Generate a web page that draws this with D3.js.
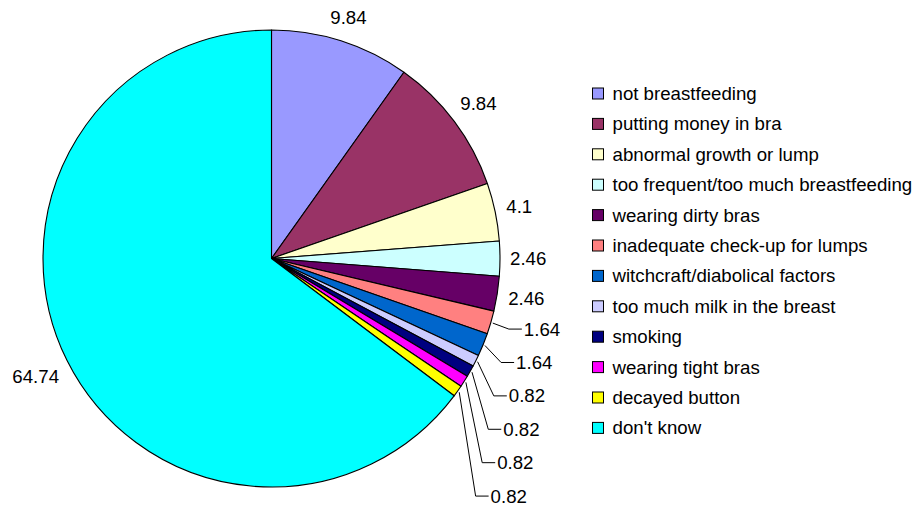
<!DOCTYPE html>
<html>
<head>
<meta charset="utf-8">
<script src="https://cdn.jsdelivr.net/npm/d3@7"></script>
<style>
  html, body { margin: 0; padding: 0; background: #ffffff; }
  svg { display: block; }
  text { font-family: "Liberation Sans", Arial, sans-serif; fill: #000; }
</style>
</head>
<body>
<div id="chart"></div>
<script>
// Perceived causes of breast problems (percent of respondents)
const categories = [
  "not breastfeeding",
  "putting money in bra",
  "abnormal growth or lump",
  "too frequent/too much breastfeeding",
  "wearing dirty bras",
  "inadequate check-up for lumps",
  "witchcraft/diabolical factors",
  "too much milk in the breast",
  "smoking",
  "wearing tight bras",
  "decayed button",
  "don't know"
];
const values = [9.84, 9.84, 4.1, 2.46, 2.46, 1.64, 1.64, 0.82, 0.82, 0.82, 0.82, 64.74];
const colors = [
  "#9999FF", "#993366", "#FFFFCC", "#CCFFFF", "#660066", "#FF8080",
  "#0066CC", "#CCCCFF", "#000080", "#FF00FF", "#FFFF00", "#00FFFF"
];

const W = 924, H = 507;
const cx = 271.5, cy = 258.5, R = 228.5;
const fs = 18.67;

const data = categories.map((c, i) => ({ name: c, value: values[i], color: colors[i] }));

const svg = d3.select("#chart").append("svg")
  .attr("width", W).attr("height", H)
  .style("background", "#fff");

const pie = d3.pie().sort(null).value(d => d.value);
const arcs = pie(data);
const arc = d3.arc().innerRadius(0).outerRadius(R);

const g = svg.append("g").attr("transform", `translate(${cx},${cy})`);

g.selectAll("path.slice")
  .data(arcs)
  .join("path")
  .attr("class", "slice")
  .attr("d", arc)
  .attr("fill", d => d.data.color)
  .attr("stroke", "#000")
  .attr("stroke-width", 1.1)
  .attr("stroke-linejoin", "round");

// Value labels: larger slices get a label just outside the rim,
// thin slices get stacked labels with leader lines.
const gap = 10;
const stepY = 33.4;
let prevY = -Infinity;

arcs.forEach(a => {
  const mid = (a.startAngle + a.endAngle) / 2;
  const s = Math.sin(mid), c = Math.cos(mid);
  const label = String(a.data.value);

  if (a.data.value >= 2) {
    const t = g.append("text")
      .attr("font-size", fs)
      .attr("text-anchor", "middle")
      .text(label);
    const w = t.node().getComputedTextLength();
    const d = R + gap + Math.abs(s) * w / 2 + Math.abs(c) * fs / 2;
    t.attr("x", d * s).attr("y", -d * c + fs * 0.35);
  } else {
    const x0 = (R + 2) * s, y0 = -(R + 2) * c;
    const ly = Math.max(y0 + 6, prevY + stepY);
    prevY = ly;
    const ex = R * s + 18;
    const tx = ex + 15;
    g.append("path")
      .attr("d", `M${x0},${y0}L${ex},${ly}L${tx - 2},${ly}`)
      .attr("fill", "none")
      .attr("stroke", "#000")
      .attr("stroke-width", 1);
    g.append("text")
      .attr("font-size", fs)
      .attr("x", tx)
      .attr("y", ly + fs * 0.35)
      .text(label);
  }
});

// Legend
const legendX = 592.5, legendY0 = 93.5, legendStep = 30.4, box = 11;
const legend = svg.append("g");
const rows = legend.selectAll("g")
  .data(data)
  .join("g")
  .attr("transform", (d, i) => `translate(${legendX},${legendY0 + i * legendStep})`);

rows.append("rect")
  .attr("x", 0)
  .attr("y", -box / 2)
  .attr("width", box)
  .attr("height", box)
  .attr("fill", d => d.color)
  .attr("stroke", "#000")
  .attr("stroke-width", 1);

rows.append("text")
  .attr("x", 20)
  .attr("y", fs * 0.35)
  .attr("font-size", fs)
  .text(d => d.name);
</script>
</body>
</html>
